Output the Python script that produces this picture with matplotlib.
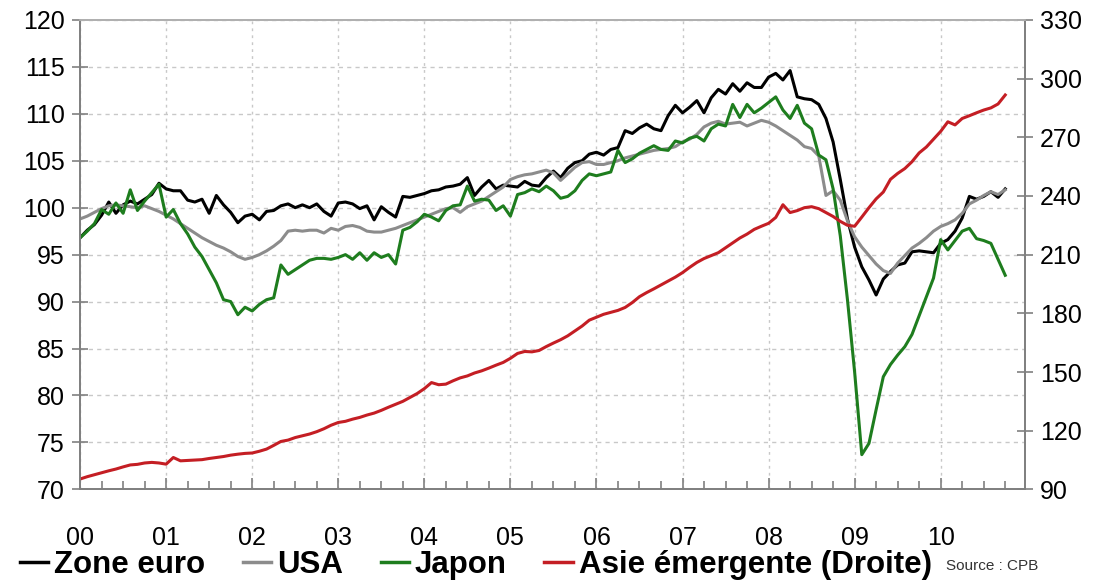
import numpy as np
import matplotlib.pyplot as plt
from matplotlib.lines import Line2D
from matplotlib.ticker import MultipleLocator

plt.rcParams['font.family'] = ['Liberation Sans', 'DejaVu Sans']

## data (monthly, Jan 2000 - Oct 2010)
year_labels = ['00', '01', '02', '03', '04', '05', '06', '07', '08', '09', '10']

euro = [
    96.8, 97.6, 98.2, 99.2, 100.6, 99.4, 100.3, 100.7, 100.4, 100.9, 101.4, 102.6,
    102.0, 101.8, 101.8, 100.8, 100.6, 100.9, 99.4, 101.3, 100.3, 99.5, 98.4, 99.1,
    99.3, 98.7, 99.6, 99.7, 100.2, 100.4, 100.0, 100.3, 100.0, 100.4, 99.6, 99.1,
    100.5, 100.6, 100.4, 99.9, 100.2, 98.7, 100.1, 99.5, 99.0, 101.2, 101.1, 101.3,
    101.5, 101.8, 101.9, 102.2, 102.3, 102.5, 103.2, 101.3, 102.2, 102.9, 102.0, 102.4,
    102.3, 102.2, 102.8, 102.4, 102.3, 103.2, 103.9, 103.2, 104.2, 104.8, 105.0, 105.7,
    105.9, 105.6, 106.2, 106.4, 108.2, 107.9, 108.5, 108.9, 108.4, 108.2, 109.8, 110.9,
    110.1, 110.7, 111.4, 110.1, 111.7, 112.6, 112.1, 113.2, 112.4, 113.3, 112.8, 112.8,
    113.9, 114.3, 113.6, 114.6, 111.8, 111.6, 111.5, 111.0, 109.5, 107.0, 103.0, 98.8,
    95.8, 93.7, 92.3, 90.7, 92.4, 93.2, 93.9, 94.1, 95.3, 95.4, 95.3, 95.2,
    96.2, 96.6, 97.5, 98.9, 101.2, 100.9, 101.2, 101.7, 101.1, 102.0]

usa = [
    98.8, 99.1, 99.5, 99.9, 100.2, 100.3, 100.2, 100.1, 100.0, 100.2, 99.9, 99.6,
    99.2, 98.8, 98.3, 97.8, 97.3, 96.8, 96.4, 96.0, 95.7, 95.3, 94.8, 94.5,
    94.7, 95.0, 95.4, 95.9, 96.5, 97.5, 97.6, 97.5, 97.6, 97.6, 97.3, 97.8,
    97.6, 98.0, 98.1, 97.9, 97.5, 97.4, 97.4, 97.6, 97.8, 98.1, 98.4, 98.7,
    99.0, 99.3, 99.6, 99.9, 100.0, 99.5, 100.1, 100.4, 100.7, 101.2, 101.7, 102.2,
    103.0, 103.3, 103.5, 103.6, 103.8, 104.0, 103.7, 102.9, 103.6, 104.3, 104.8, 104.9,
    104.6, 104.6, 104.8, 105.0, 105.3, 105.5, 105.7, 105.9, 106.1, 106.2, 106.3, 106.5,
    107.0, 107.3, 107.8, 108.6, 109.0, 109.2, 108.9, 109.0, 109.1, 108.7, 109.0, 109.3,
    109.1, 108.7, 108.2, 107.7, 107.2, 106.5, 106.3, 105.5, 101.3, 101.8, 100.8, 98.6,
    96.9, 95.8, 94.9, 94.0, 93.3, 93.0, 94.1, 94.9, 95.7, 96.2, 96.8, 97.5,
    98.0, 98.3, 98.7, 99.4, 100.4, 100.8, 101.3, 101.7, 101.4, 101.9]

japon = [
    96.8, 97.5, 98.3, 99.8, 99.3, 100.5, 99.4, 101.9, 99.7, 100.7, 101.6, 102.5,
    99.0, 99.8, 98.3, 97.2, 95.8, 94.8, 93.4, 92.0, 90.2, 90.0, 88.6, 89.4,
    89.0, 89.7, 90.2, 90.4, 93.9, 92.9, 93.4, 93.9, 94.4, 94.6, 94.6, 94.5,
    94.7, 95.0, 94.5, 95.2, 94.4, 95.2, 94.7, 95.0, 94.0, 97.6, 97.9, 98.5,
    99.3, 99.0, 98.6, 99.7, 100.2, 100.3, 102.3, 100.7, 100.9, 100.8, 99.7, 100.2,
    99.1, 101.4, 101.6, 102.0, 101.7, 102.3, 101.8, 101.0, 101.2, 101.8, 102.9, 103.6,
    103.4, 103.6, 103.8, 106.1, 104.8, 105.2, 105.8, 106.2, 106.6, 106.2, 106.1, 107.1,
    106.9, 107.4, 107.6, 107.1, 108.4, 108.9, 108.7, 111.0, 109.6, 111.0, 110.1, 110.6,
    111.2, 111.8, 110.4, 109.5, 110.9, 109.0, 108.4, 105.6, 105.1, 102.0, 97.0, 90.2,
    82.5, 73.7, 74.9, 78.5, 82.0, 83.3, 84.3, 85.2, 86.5, 88.5, 90.5, 92.5,
    96.6, 95.5, 96.5, 97.5, 97.8, 96.7, 96.5, 96.2, 94.5, 92.8]

asie = [
    95.3, 96.5, 97.5, 98.5, 99.5, 100.4, 101.5, 102.5, 102.8, 103.5, 103.8, 103.5,
    102.9, 106.3, 104.6, 104.8, 105.0, 105.2, 105.8, 106.3, 106.8, 107.5, 108.0, 108.4,
    108.6, 109.5, 110.6, 112.5, 114.5, 115.2, 116.5, 117.4, 118.3, 119.5, 121.0, 122.8,
    124.2, 124.8, 125.9, 126.8, 128.0, 129.0, 130.4, 132.0, 133.5, 135.0, 137.0, 139.0,
    141.5, 144.6, 143.5, 143.8, 145.5, 147.0, 148.0, 149.5, 150.6, 152.0, 153.5, 154.9,
    157.0, 159.5, 160.5, 160.3, 161.0, 163.0, 164.8, 166.5, 168.5, 171.0, 173.5, 176.5,
    178.0, 179.5, 180.5, 181.5, 183.0, 185.5, 188.5, 190.6, 192.5, 194.5, 196.5, 198.5,
    200.8, 203.5, 206.0, 208.0, 209.5, 211.0, 213.5, 216.0, 218.5, 220.5, 222.9, 224.5,
    226.0, 229.0, 235.5, 231.5, 232.5, 234.0, 234.5, 233.5, 231.5, 229.5, 227.0, 225.0,
    224.5, 229.2, 234.0, 238.5, 242.0, 248.5, 251.5, 254.0, 257.5, 262.0, 265.0, 269.0,
    273.0, 277.9, 276.3, 279.6, 281.0, 282.5, 283.9, 285.0, 287.0, 291.6]

months = np.arange(len(euro))

fig = plt.figure(figsize=(10.97, 5.84), dpi=100)
ax = fig.add_axes([0.073, 0.162, 0.861, 0.804])
ax2 = ax.twinx()

axis_col = '#808080'
grid_col = '#c8c8c8'

ax.plot(months, euro, color='#000000', lw=2.2)
ax.plot(months, usa, color='#8c8c8c', lw=2.2)
ax.plot(months, japon, color='#1e7d1e', lw=2.2)
ax2.plot(months, asie, color='#c41e24', lw=2.2)

ax.set_xlim(0, 131.7)
ax.set_ylim(70, 120)
ax2.set_ylim(90, 330)

ax.set_xticks(np.arange(0, 121, 12))
ax.set_xticklabels(year_labels)
ax.xaxis.set_minor_locator(MultipleLocator(3))
ax.yaxis.set_major_locator(MultipleLocator(5))
ax2.yaxis.set_major_locator(MultipleLocator(30))

ax.grid(True, which='major', axis='y', color=grid_col, lw=1.0,
        linestyle=(0, (3, 3)))
ax.grid(True, which='major', axis='x', color=grid_col, lw=1.0,
        linestyle=(0, (2, 3)))
ax.set_axisbelow(True)

for a in (ax, ax2):
    for s in a.spines.values():
        s.set_color(axis_col)
        s.set_linewidth(1.3)
    a.spines['top'].set_color('#b0b0b0')

ax.tick_params(axis='y', direction='inout', length=12, width=1.2,
               color=axis_col, labelsize=18, pad=5)
ax2.tick_params(axis='y', direction='inout', length=12, width=1.2,
                color=axis_col, labelsize=18, pad=5)
ax.tick_params(axis='x', which='major', direction='in', length=8, width=1.2,
               color=axis_col, labelsize=18, pad=26)
ax.tick_params(axis='x', which='minor', direction='in', length=6, width=1.2,
               color=axis_col)

## legend
handles = [Line2D([], [], color='#000000', lw=2.5),
           Line2D([], [], color='#8c8c8c', lw=2.5),
           Line2D([], [], color='#1e7d1e', lw=2.5),
           Line2D([], [], color='#c41e24', lw=2.5)]
labels = ['Zone euro', 'USA', 'Japon', 'Asie émergente (Droite)']
fig.legend(handles, labels, loc='center left', bbox_to_anchor=(0.018, 0.032),
           ncol=4, frameon=False, prop={'weight': 'bold', 'size': 22.5},
           handlelength=0.9, handletextpad=0.2, columnspacing=1.2,
           borderaxespad=0, borderpad=0)
fig.text(0.862, 0.03, 'Source : CPB', fontsize=11, va='center', color='#333333')

fig.savefig('out.png', dpi=100)
